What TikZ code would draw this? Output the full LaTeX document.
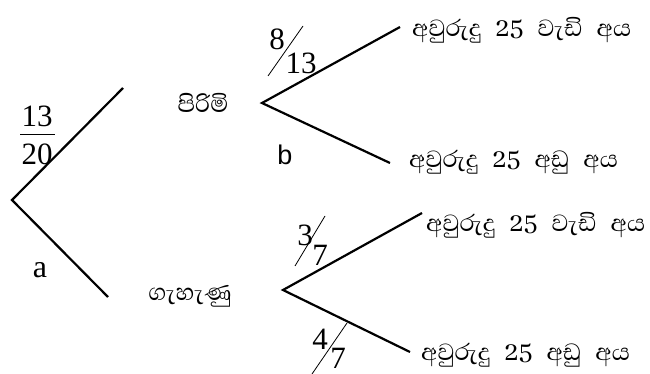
\documentclass[tikz,border=0pt]{standalone}
\usepackage{fontspec}
\setmainfont{Liberation Serif}
\setsansfont{Liberation Sans}
\newfontfamily\sinhalafont[Script=Sinhala]{Abhaya Libre}
\newcommand{\gap}{\hspace{14pt}}
\tikzset{
  branch/.style={line width=2.2pt},
  slash/.style={line width=0.8pt},
  sinh/.style={font=\sinhalafont\fontsize{30}{34}\selectfont, inner sep=0pt},
  num/.style={font=\fontsize{31}{35}\selectfont, inner sep=0pt},
  lbl/.style={inner sep=0pt}
}
\begin{document}
\begin{tikzpicture}[x=1pt, y=-1pt]
      \useasboundingbox (0,0) rectangle (650,374);
      % first level
      \coordinate (root) at (12,200);
      \coordinate (mend) at (123,88);
      \coordinate (fend) at (108,297);
      \draw[branch] (mend) -- (root) -- (fend);
      \node[num] (n1320) at (37,116) {13};
      \node[num] (d1320) at (37,154) {20};
      \draw[slash] (20,134) -- (55,134);
      \node[lbl, font=\fontsize{32}{36}\selectfont] (a) at (40,270) {a};
      % male branch
      \node[sinh] (male) at (203,103) {පිරිමි};
      \coordinate (mfork) at (262,103);
      \coordinate (mup) at (400,27);
      \coordinate (mdown) at (390,163);
      \draw[branch] (mup) -- (mfork) -- (mdown);
      \begin{scope}[shift={(285,51)}]
        \node[num] (n813) at (-8,-12) {8};
        \node[num] (d813) at (16,12) {13};
        \draw[slash] (-17,25) -- (18,-25);
      \end{scope}
      \node[lbl, font=\sffamily\fontsize{27}{30}\selectfont] (b) at (285,155) {b};
      \node[sinh, anchor=west] (mover) at (412,30) {අවුරුදු\gap 25\gap වැඩි\gap අය};
      \node[sinh, anchor=west] (munder) at (409,162) {අවුරුදු\gap 25\gap අඩු\gap අය};
      % female branch
      \node[sinh] (female) at (190,296) {ගැහැණු};
      \coordinate (ffork) at (283,290);
      \coordinate (fup) at (422,213);
      \coordinate (fdown) at (410,352);
      \draw[branch] (fup) -- (ffork) -- (fdown);
      \begin{scope}[shift={(311,241)}]
        \node[num] (n37) at (-6,-6) {3};
        \node[num] (d37) at (9,14) {7};
        \draw[slash] (-16,25) -- (14,-25);
      \end{scope}
      \begin{scope}[shift={(330,347)}]
        \node[num] (n47) at (-10,-8) {4};
        \node[num] (d47) at (8,11) {7};
        \draw[slash] (-18,27) -- (17,-24);
      \end{scope}
      \node[sinh, anchor=west] (fover) at (426,225) {අවුරුදු\gap 25\gap වැඩි\gap අය};
      \node[sinh, anchor=west] (funder) at (421,355) {අවුරුදු\gap 25\gap අඩු\gap අය};
\end{tikzpicture}
\end{document}
